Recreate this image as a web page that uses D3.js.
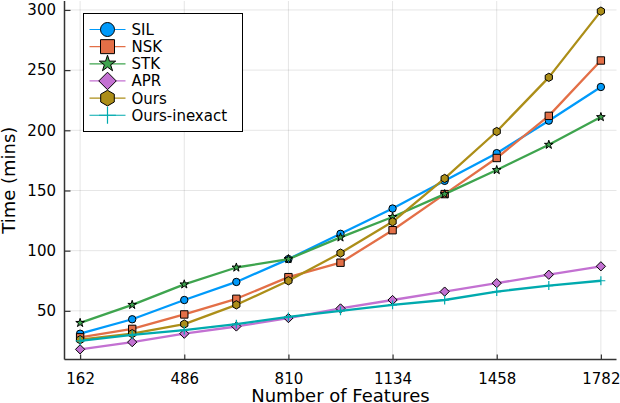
<!DOCTYPE html>
<html>
<head>
<meta charset="utf-8">
<script src="https://cdn.jsdelivr.net/npm/d3@7"></script>
<style>
html,body{margin:0;padding:0;background:#fff;}
svg{display:block;font-family:"DejaVu Sans",sans-serif;}
</style>
</head>
<body>
<svg id="chart" width="620" height="403"></svg>
<script>
const features = [162,324,486,648,810,972,1134,1296,1458,1620,1782];
const sil = [31,43,59,74,93,114,135,158,181,208,236];
const nsk = [28,35,47,60,78,90,117,147,177,212,258];
const stk = [40,55,72,86,93,111,128,147,167,188,211];
const apr = [18,24,31,37,44,52,59,66,73,80,87];
const ours = [26,31,39,55,75,98,124,160,199,244,299];
const oursInexact = [25,30,34,39,45,50,55,59,66,71,75];
const xTicks = [162,486,810,1134,1458,1782];
const yTicks = [50,100,150,200,250,300];
const seriesNames = ["SIL","NSK","STK","APR","Ours","Ours-inexact"];
const seriesColors = ["#009AFA","#E36F47","#3EA44E","#C371D2","#AC8E18","#00AAAE"];
const seriesShapes = ["circle","square","star","diamond","hexagon","cross"];
const seriesValues = [sil,nsk,stk,apr,ours,oursInexact];

const svg = d3.select("#chart");
const L = 64.5, R = 616.5, T = 1, B = 359.5;

const allVals = seriesValues.flat();
const yMin = d3.min(allVals), yMax = d3.max(allVals);
const yPad = (yMax - yMin) * 0.03;
const xMin = d3.min(features), xMax = d3.max(features);
const xPad = (xMax - xMin) * 0.03;
const x = d3.scaleLinear().domain([xMin - xPad, xMax + xPad]).range([L, R]);
const y = d3.scaleLinear().domain([yMin - yPad, yMax + yPad]).range([B, T]);

// grid
const grid = svg.append("g");
grid.selectAll("line.gx").data(xTicks).join("line")
  .attr("x1", d => x(d)).attr("x2", d => x(d)).attr("y1", T).attr("y2", B)
  .attr("stroke", "#000").attr("stroke-opacity", 0.1).attr("stroke-width", 1);
grid.selectAll("line.gy").data(yTicks).join("line")
  .attr("y1", d => y(d)).attr("y2", d => y(d)).attr("x1", L).attr("x2", R)
  .attr("stroke", "#000").attr("stroke-opacity", 0.1).attr("stroke-width", 1);

// axes
const fmt = d3.format("d");
const xAxis = d3.axisBottom(x).tickValues(xTicks).tickFormat(fmt).tickSizeInner(-5).tickSizeOuter(0).tickPadding(14);
const yAxis = d3.axisLeft(y).tickValues(yTicks).tickFormat(fmt).tickSizeInner(-6).tickSizeOuter(0).tickPadding(8.5);
const gx = svg.append("g").attr("transform", `translate(0,${B})`).call(xAxis);
const gy = svg.append("g").attr("transform", `translate(${L},0)`).call(yAxis);
[gx, gy].forEach(g => {
  g.select(".domain").attr("stroke", "#333").attr("stroke-width", 1.5);
  g.selectAll(".tick line").attr("stroke", "#333").attr("stroke-width", 1.2);
  g.selectAll(".tick text").attr("fill", "#000").style("font-size", "15px").style("font-family", "DejaVu Sans");
});
gx.select(".domain").attr("d", `M${L},0H${R}`);
gy.select(".domain").attr("d", `M0,${T}V${B}`);

// axis titles
svg.append("text").attr("x", (L + R) / 2).attr("y", 401.5).attr("text-anchor", "middle")
  .style("font-size", "18px").text("Number of Features");
svg.append("text").attr("transform", `translate(15,${(T + B) / 2}) rotate(-90)`).attr("text-anchor", "middle")
  .style("font-size", "18px").text("Time (mins)");

// marker path generator
function markerPath(shape, s) {
  if (shape === "circle") return d3.symbol(d3.symbolCircle, Math.PI * s * s)();
  if (shape === "square") return d3.symbol(d3.symbolSquare, (2 * s) * (2 * s))();
  if (shape === "star") return d3.symbol(d3.symbolStar, 1.7 * s * s)();
  if (shape === "diamond") {
    const r = s * 1.25;
    return `M0,${-r}L${r},0L0,${r}L${-r},0Z`;
  }
  if (shape === "hexagon") {
    const r = s * 1.12;
    const pts = d3.range(6).map(i => {
      const a = Math.PI / 2 + i * Math.PI / 3;
      return [r * Math.cos(a), -r * Math.sin(a)];
    });
    return "M" + pts.map(p => p.join(",")).join("L") + "Z";
  }
  if (shape === "cross") {
    const r = s * 1.2;
    return `M${-r},0H${r}M0,${-r}V${r}`;
  }
}
function drawMarker(g, shape, color, s, cx, cy) {
  const p = g.append("path").attr("d", markerPath(shape, s)).attr("transform", `translate(${cx},${cy})`);
  if (shape === "cross") {
    p.attr("fill", "none").attr("stroke", color).attr("stroke-width", 1.2);
  } else {
    p.attr("fill", color).attr("stroke", "#000").attr("stroke-width", 1);
  }
}

const line = d3.line().x(d => x(d[0])).y(d => y(d[1]));
seriesValues.forEach((vals, i) => {
  const g = svg.append("g");
  const pts = features.map((f, j) => [f, vals[j]]);
  g.append("path").attr("d", line(pts)).attr("fill", "none")
    .attr("stroke", seriesColors[i]).attr("stroke-width", 2.3).attr("stroke-linejoin", "round");
  pts.forEach(p => drawMarker(g, seriesShapes[i], seriesColors[i], 3.7, x(p[0]), y(p[1])));
});

// legend
const lg = svg.append("g");
lg.append("rect").attr("x", 83.5).attr("y", 13.5).attr("width", 159).attr("height", 118)
  .attr("fill", "#fff").attr("stroke", "#000").attr("stroke-width", 1);
seriesNames.forEach((name, i) => {
  const cy = 29.5 + i * 17.15;
  lg.append("line").attr("x1", 89.5).attr("x2", 125.5).attr("y1", cy).attr("y2", cy)
    .attr("stroke", seriesColors[i]).attr("stroke-width", 1.2);
  drawMarker(lg, seriesShapes[i], seriesColors[i], 7, 107.5, cy);
  lg.append("text").attr("x", 131.5).attr("y", cy).attr("dy", "0.36em")
    .style("font-size", "15px").text(name);
});
</script>
</body>
</html>
